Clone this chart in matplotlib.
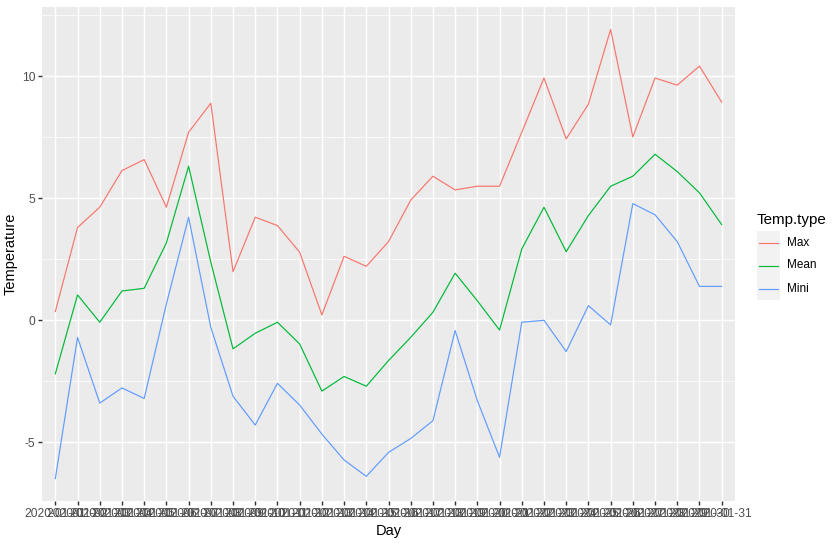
import matplotlib
matplotlib.use("Agg")
import matplotlib.pyplot as plt
from matplotlib.patches import Rectangle
from matplotlib.lines import Line2D

plt.rcParams['font.family'] = ['Liberation Sans', 'DejaVu Sans']

days = [f"2020-01-{d:02d}" for d in range(1, 32)]
max_temp = [0.36, 3.80, 4.63, 6.13, 6.58, 4.63, 7.70, 8.89, 1.99, 4.22, 3.88,
            2.79, 0.22, 2.62, 2.21, 3.22, 4.92, 5.90, 5.34, 5.49, 5.49, 7.70,
            9.92, 7.43, 8.85, 11.91, 7.51, 9.92, 9.63, 10.41, 8.93]
mean_temp = [-2.19, 1.04, -0.08, 1.20, 1.31, 3.17, 6.31, 2.38, -1.17, -0.53, -0.08,
             -0.97, -2.90, -2.30, -2.70, -1.65, -0.70, 0.33, 1.93, 0.80, -0.40, 2.92,
             4.63, 2.81, 4.29, 5.49, 5.90, 6.80, 6.09, 5.22, 3.92]
mini_temp = [-6.48, -0.70, -3.39, -2.77, -3.20, 0.67, 4.22, -0.29, -3.11, -4.29, -2.58,
             -3.47, -4.66, -5.72, -6.39, -5.41, -4.84, -4.11, -0.42, -3.29, -5.61, -0.08,
             0.00, -1.28, 0.60, -0.19, 4.78, 4.32, 3.22, 1.39, 1.39]
series_names = ["Max", "Mean", "Mini"]
series_values = [max_temp, mean_temp, mini_temp]
colors = ["#F8766D", "#00BA38", "#619CFF"]

W, H, DPI = 840, 546, 96
fig = plt.figure(figsize=(W / DPI, H / DPI), dpi=DPI)
fig.patch.set_facecolor("white")

L, R, T, B = 42, 735, 7, 501
ax = fig.add_axes([L / W, 1 - B / H, (R - L) / W, (B - T) / H])
ax.set_facecolor("#EBEBEB")
for s in ax.spines.values():
    s.set_visible(False)

x = list(range(len(days)))
for name, vals, c in zip(series_names, series_values, colors):
    ax.plot(x, vals, color=c, linewidth=0.9, zorder=3)

allv = max_temp + mean_temp + mini_temp
lo, hi = min(allv), max(allv)
pad = (hi - lo) * 0.05
ax.set_ylim(lo - pad, hi + pad)
ax.set_xlim(-0.6, len(days) - 1 + 0.6)

ax.set_yticks([-5, 0, 5, 10])
ax.set_yticklabels(["-5", "0", "5", "10"])
ax.set_yticks([-2.5, 2.5, 7.5, 12.5], minor=True)
ax.set_xticks(x)
ax.set_xticklabels(days)

ax.grid(True, which="major", color="white", linewidth=1.07, zorder=1)
ax.grid(True, which="minor", axis="y", color="white", linewidth=0.53, zorder=1)
ax.set_axisbelow(True)
ax.tick_params(which="major", length=2.75, width=1.07, color="#333333",
               labelsize=9.0, labelcolor="#4D4D4D", pad=2.2)
ax.tick_params(which="minor", length=0)

ax.set_xlabel("Day", fontsize=11, color="black", labelpad=3)
ax.set_ylabel("Temperature", fontsize=11, color="black", labelpad=3)

# legend (ggplot-style)
def fx(px):
    return px / W

def fy(py):
    return 1 - py / H

fig.text(fx(757), fy(220), "Temp.type", fontsize=11.3, ha="left", va="center")
key_x0, key_w, key_h, key_y0 = 757, 23, 23, 231
fig.patches.append(Rectangle((fx(key_x0), fy(key_y0 + key_h * 3)), key_w / W, key_h * 3 / H,
                             transform=fig.transFigure, facecolor="#F2F2F2",
                             edgecolor="none"))
for i, (name, c) in enumerate(zip(series_names, colors)):
    cy = key_y0 + key_h * i + key_h / 2
    fig.lines.append(Line2D([fx(key_x0 + 2), fx(key_x0 + key_w - 2)], [fy(cy), fy(cy)],
                            transform=fig.transFigure, color=c, linewidth=0.9))
    fig.text(fx(787), fy(cy), name, fontsize=8.8, ha="left", va="center")

fig.savefig("out.png", dpi=DPI, facecolor="white")
